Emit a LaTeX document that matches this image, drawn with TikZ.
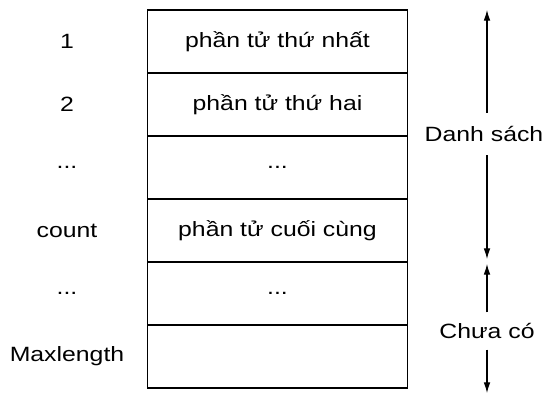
\documentclass[tikz,border=0pt]{standalone}
\usepackage{fontspec}
\setmainfont{Liberation Sans}[FakeStretch=1.2]
\usetikzlibrary{positioning,arrows.meta}

\begin{document}
\begin{tikzpicture}[x=0.75pt,y=0.75pt,yscale=-1,xscale=1,
  cell/.style={draw,line width=1pt,outer sep=0pt,inner sep=0pt,
    minimum width=195pt,minimum height=47.25pt,font=\fontsize{15.5}{18}\selectfont},
  idx/.style={font=\fontsize{15.5}{18}\selectfont},
  span/.style={line width=0.8pt,-{Latex[length=8pt,width=5pt]}}]
\useasboundingbox (0,0) rectangle (546,397);

% the array cells, top to bottom
\node[cell] (c1) at (277.5,41.5) {phần tử thứ nhất};
\node[cell,below=0pt of c1] (c2) {phần tử thứ hai};
\node[cell,below=0pt of c2] (c3) {...};
\node[cell,below=0pt of c3] (c4) {phần tử cuối cùng};
\node[cell,below=0pt of c4] (c5) {...};
\node[cell,below=0pt of c5] (c6) {};

% index column
\coordinate (col) at (67,0);
\node[idx] (i1) at (c1 -| col) {1};
\node[idx] (i2) at (c2 -| col) {2};
\node[idx] (i3) at (c3 -| col) {...};
\node[idx] (i4) at (c4 -| col) {count};
\node[idx] (i5) at (c5 -| col) {...};
\node[idx] (i6) at (c6 -| col) {Maxlength};

% spans on the right
\coordinate (dstop) at (487,10);
\coordinate (dsbot) at (487,259);
\coordinate (cctop) at (487,264);
\coordinate (ccbot) at (487,393);
\node[idx,inner ysep=10pt] (ds) at (484,134) {Danh sách};
\node[idx,inner ysep=8pt] (cc) at (487,331) {Chưa có};
\draw[span] (ds.north -| dstop) -- (dstop);
\draw[span] (ds.south -| dsbot) -- (dsbot);
\draw[span] (cc.north -| cctop) -- (cctop);
\draw[span] (cc.south -| ccbot) -- (ccbot);

\end{tikzpicture}
\end{document}
